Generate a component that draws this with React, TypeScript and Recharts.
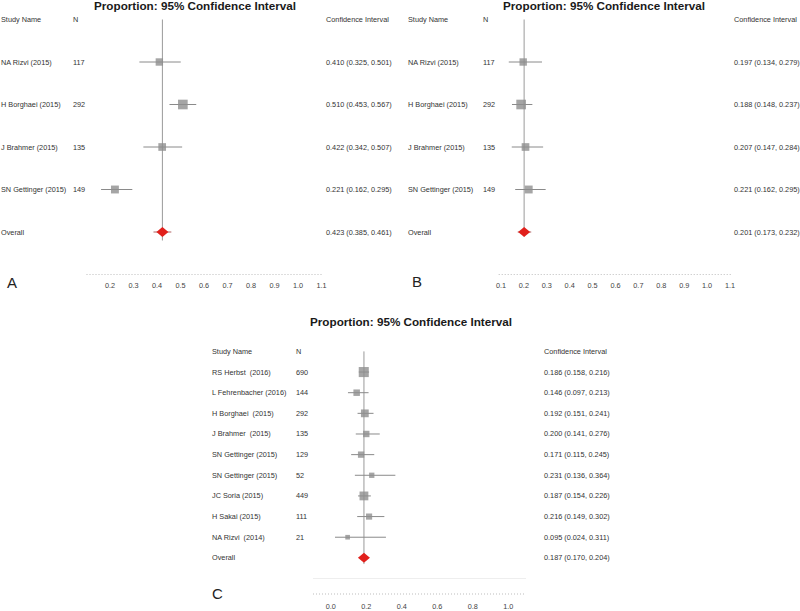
import { ScatterChart, Scatter, XAxis, YAxis, ErrorBar, ReferenceLine } from 'recharts';

// Panel A and B share studies / sample sizes
const abStudies = ['NA Rizvi (2015)', 'H Borghaei (2015)', 'J Brahmer (2015)', 'SN Gettinger (2015)', 'Overall'];
const abN = ['117', '292', '135', '149', ''];

const aEst = [0.41, 0.51, 0.422, 0.221, 0.423];
const aLow = [0.325, 0.453, 0.342, 0.162, 0.385];
const aHigh = [0.501, 0.567, 0.507, 0.295, 0.461];
const aTicks = [0.2, 0.3, 0.4, 0.5, 0.6, 0.7, 0.8, 0.9, 1.0, 1.1];

const bEst = [0.197, 0.188, 0.207, 0.221, 0.201];
const bLow = [0.134, 0.148, 0.147, 0.162, 0.173];
const bHigh = [0.279, 0.237, 0.284, 0.295, 0.232];
const bTicks = [0.1, 0.2, 0.3, 0.4, 0.5, 0.6, 0.7, 0.8, 0.9, 1.0, 1.1];

const cStudies = [
  'RS Herbst  (2016)',
  'L Fehrenbacher (2016)',
  'H Borghaei  (2015)',
  'J Brahmer  (2015)',
  'SN Gettinger (2015)',
  'SN Gettinger (2015)',
  'JC Soria (2015)',
  'H Sakai (2015)',
  'NA Rizvi  (2014)',
  'Overall',
];
const cN = ['690', '144', '292', '135', '129', '52', '449', '111', '21', ''];
const cEst = [0.186, 0.146, 0.192, 0.2, 0.171, 0.231, 0.187, 0.216, 0.095, 0.187];
const cLow = [0.158, 0.097, 0.151, 0.141, 0.115, 0.136, 0.154, 0.149, 0.024, 0.17];
const cHigh = [0.216, 0.213, 0.241, 0.276, 0.245, 0.364, 0.226, 0.302, 0.311, 0.204];
const cTicks = [0.0, 0.2, 0.4, 0.6, 0.8, 1.0];

const FONT = '"Liberation Sans", Arial, sans-serif';
const TXT = 7.3;

type Row = { x: number; y: number; err: [number, number]; name: string; n: string; ci: string };

const buildRows = (names: string[], n: string[], est: number[], lo: number[], hi: number[]): Row[] =>
  names.map((name, i) => ({
    x: est[i],
    y: i,
    err: [est[i] - lo[i], hi[i] - est[i]],
    name,
    n: n[i],
    ci: `${est[i].toFixed(3)} (${lo[i].toFixed(3)}, ${hi[i].toFixed(3)})`,
  }));

// square size grows with sample size
const makeSquare = (base: number, k: number) => (props: any) => {
  const { cx, cy, payload } = props;
  const s = base + Math.sqrt(Number(payload.n) || 0) * k;
  return <rect x={cx - s / 2} y={cy - s / 2} width={s} height={s} fill="#8f8f8f" fillOpacity={0.8} />;
};

const Diamond = (props: any) => {
  const { cx, cy } = props;
  return (
    <polygon
      points={`${cx - 6},${cy} ${cx},${cy - 5} ${cx + 6},${cy} ${cx},${cy + 5}`}
      fill="#e1201c"
    />
  );
};

type PanelProps = {
  rows: Row[];
  left: number;
  top: number;
  width: number;
  height: number;
  margin: { top: number; right: number; bottom: number; left: number };
  yAxisWidth: number;
  yDomain: [number, number];
  xDomain: [number, number];
  xTicks: number[];
  cols: [number, number, number];
  refEnd: number;
  xAxisHeight: number;
  tickSize: number;
  square: (props: any) => any;
  sepLine?: number;
};

const Panel = (p: PanelProps) => {
  const studies = p.rows.slice(0, -1);
  const overall = p.rows.slice(-1);
  const rowTick = (props: any) => {
    const v = props.payload.value;
    const y = props.y;
    const row = p.rows[v];
    const cells = v < 0 ? ['Study Name', 'N', 'Confidence Interval'] : [row.name, row.n, row.ci];
    return (
      <g>
        {cells.map((c, i) => (
          <text
            key={i}
            x={p.cols[i]}
            y={y}
            dominantBaseline="central"
            fontSize={TXT}
            fontFamily={FONT}
            fill="#333"
            style={{ whiteSpace: 'pre' }}
          >
            {c}
          </text>
        ))}
      </g>
    );
  };
  const overallX = overall[0].x;
  return (
    <div style={{ position: 'absolute', left: p.left, top: p.top }}>
      <ScatterChart width={p.width} height={p.height} margin={p.margin}>
        <XAxis
          type="number"
          dataKey="x"
          domain={p.xDomain}
          ticks={p.xTicks}
          tickFormatter={(v: number) => v.toFixed(1)}
          tickLine={false}
          tickSize={p.tickSize}
          height={p.xAxisHeight}
          axisLine={{ stroke: '#bdbdbd', strokeDasharray: '1 2' }}
          tick={{ fontSize: TXT, fill: '#444', fontFamily: FONT }}
          allowDataOverflow
        />
        <YAxis
          type="number"
          dataKey="y"
          reversed
          domain={p.yDomain}
          ticks={p.rows.map((_, i) => i).concat([-1])}
          interval={0}
          width={p.yAxisWidth}
          axisLine={false}
          tickLine={false}
          tick={rowTick}
          allowDataOverflow
        />
        {p.sepLine !== undefined && <ReferenceLine y={p.sepLine} stroke="#eeeeee" />}
        <ReferenceLine
          segment={[
            { x: overallX, y: -1 },
            { x: overallX, y: p.refEnd },
          ]}
          stroke="#9a9a9a"
          strokeWidth={1}
        />
        <Scatter data={studies} shape={p.square} isAnimationActive={false}>
          <ErrorBar dataKey="err" direction="x" width={0} stroke="#8a8a8a" strokeWidth={1} isAnimationActive={false} />
        </Scatter>
        <Scatter data={overall} shape={Diamond} isAnimationActive={false}>
          <ErrorBar dataKey="err" direction="x" width={0} stroke="#b06060" strokeWidth={1} isAnimationActive={false} />
        </Scatter>
      </ScatterChart>
    </div>
  );
};

const Title = ({ cx, cy }: { cx: number; cy: number }) => (
  <div
    style={{
      position: 'absolute',
      left: cx - 150,
      top: cy - 7,
      width: 300,
      lineHeight: '14px',
      textAlign: 'center',
      fontFamily: FONT,
      fontWeight: 'bold',
      fontSize: 11.7,
      color: '#1a1a1a',
      whiteSpace: 'nowrap',
    }}
  >
    Proportion: 95% Confidence Interval
  </div>
);

const Letter = ({ x, cy, text }: { x: number; cy: number; text: string }) => (
  <div
    style={{
      position: 'absolute',
      left: x,
      top: cy - 9,
      lineHeight: '18px',
      fontFamily: FONT,
      fontSize: 15,
      color: '#222',
    }}
  >
    {text}
  </div>
);

const rowsA = buildRows(abStudies, abN, aEst, aLow, aHigh);
const rowsB = buildRows(abStudies, abN, bEst, bLow, bHigh);
const rowsC = buildRows(cStudies, cN, cEst, cLow, cHigh);

const squareAB = makeSquare(3.5, 0.36);
const squareC = makeSquare(3.5, 0.25);

export default function App() {
  return (
    <div
      style={{
        position: 'absolute',
        left: 0,
        top: 0,
        width: 800,
        height: 611,
        background: '#fff',
        overflow: 'hidden',
      }}
    >
      <Title cx={195} cy={6} />
      <Title cx={604} cy={6} />
      <Title cx={411} cy={322} />
      <Panel
        rows={rowsA}
        left={0}
        top={0}
        width={400}
        height={300}
        margin={{ top: 19.5, right: 78.5, bottom: 5.5, left: 0 }}
        yAxisWidth={86.5}
        yDomain={[-1, 5]}
        xDomain={[0.1, 1.1]}
        xTicks={aTicks}
        cols={[1, 73, 326]}
        refEnd={4.2}
        xAxisHeight={20}
        tickSize={6}
        square={squareAB}
      />
      <Panel
        rows={rowsB}
        left={400}
        top={0}
        width={400}
        height={300}
        margin={{ top: 19.5, right: 67.7, bottom: 5.5, left: 0 }}
        yAxisWidth={98.7}
        yDomain={[-1, 5]}
        xDomain={[0.09, 1.11]}
        xTicks={bTicks}
        cols={[8, 83, 334]}
        refEnd={4.1}
        xAxisHeight={20}
        tickSize={6}
        square={squareAB}
      />
      <Panel
        rows={rowsC}
        left={200}
        top={320}
        width={420}
        height={291}
        margin={{ top: 31.4, right: 94, bottom: 1, left: 0 }}
        yAxisWidth={113}
        yDomain={[-1, 10.75]}
        xDomain={[-0.1, 1.1]}
        xTicks={cTicks}
        cols={[12, 96, 344]}
        refEnd={9.3}
        xAxisHeight={16}
        tickSize={8}
        square={squareC}
        sepLine={10}
      />
      <Letter x={7} cy={283} text="A" />
      <Letter x={412} cy={282} text="B" />
      <Letter x={212} cy={594} text="C" />
    </div>
  );
}
